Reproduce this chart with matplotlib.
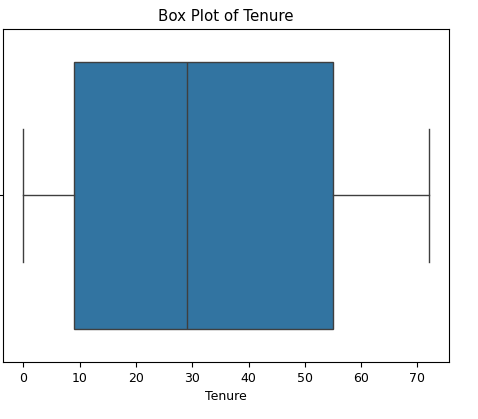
import matplotlib
matplotlib.use("Agg")
import matplotlib.pyplot as plt

# five-number summary of tenure (months)
label = "Tenure"
whisker_low = 0
q1 = 9
median = 29
q3 = 55
whisker_high = 72

BOX_COLOR = "#3274a1"
LINE_COLOR = "#3f3f3f"

fig = plt.figure(figsize=(4.78, 4.19), dpi=100)
ax = fig.add_axes([3 / 478, 1 - 362 / 419, (449 - 3) / 478, (362 - 29) / 419])

stats = [{
    "whislo": whisker_low, "q1": q1, "med": median, "q3": q3,
    "whishi": whisker_high, "fliers": [],
}]
ax.bxp(stats, positions=[0], widths=0.8, vert=False, patch_artist=True,
       showfliers=False,
       boxprops=dict(facecolor=BOX_COLOR, edgecolor=LINE_COLOR, linewidth=1.0),
       medianprops=dict(color=LINE_COLOR, linewidth=1.0),
       whiskerprops=dict(color=LINE_COLOR, linewidth=1.0),
       capprops=dict(color=LINE_COLOR, linewidth=1.0),
       capwidths=0.4)

ax.set_ylim(0.5, -0.5)
ax.set_xlim(whisker_low - 0.05 * (whisker_high - whisker_low),
            whisker_high + 0.05 * (whisker_high - whisker_low))
ax.set_yticks([0])
ax.set_yticklabels([""])
ax.set_xticks(range(0, 71, 10))
ax.tick_params(labelsize=9)
ax.set_xlabel(label, fontsize=9)
ax.set_title("Box Plot of " + label, fontsize=10.8)

fig.savefig("out.png", dpi=100)
